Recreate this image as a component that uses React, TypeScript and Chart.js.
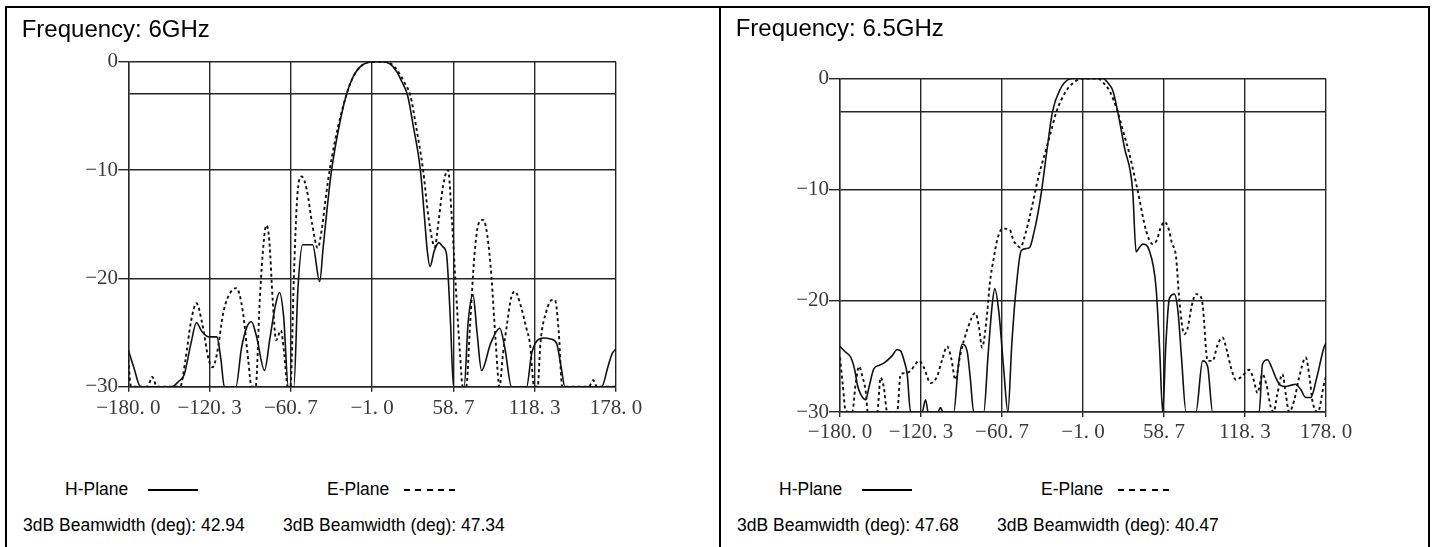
import React, { useEffect, useRef } from 'react';
import { Chart, registerables } from 'chart.js';

Chart.register(...registerables);

// ---------- axis ticks ----------
const X_TICKS = [-180, -120.3, -60.7, -1.0, 58.7, 118.3, 178.0];
const X_TICK_LABELS = ['−180. 0', '−120. 3', '−60. 7', '−1. 0', '58. 7', '118. 3', '178. 0'];
const Y_TICKS = [-30, -20, -10, -3, 0];
const Y_TICK_LABELS = ['−30', '−20', '−10', '', '0'];

// ---------- text ----------
const FREQUENCIES = ['Frequency: 6GHz', 'Frequency: 6.5GHz'];
const SERIES_NAMES = ['H-Plane', 'E-Plane'];
const BEAMWIDTH_6GHZ = ['42.94', '47.34'];
const BEAMWIDTH_6_5GHZ = ['47.68', '40.47'];

// ---------- 6 GHz, H-plane (solid) ----------
const H6_DEG = [-180, -176, -171, -148, -143, -139, -134, -130, -126, -121, -115, -112, -109.5, -101, -97, -93, -89.6, -86, -80, -76, -72, -69, -66, -62.5, -58.5, -55.5, -52, -44.7, -39.5, -37, -34, -31, -25, -20, -15, -10, -5, 0, 6, 12, 17, 21, 25, 29, 34.5, 37.5, 39.5, 41.5, 44.5, 48, 51, 53.5, 56.5, 58.7, 66.5, 69.5, 73, 76, 79.3, 86, 92.7, 96.5, 101.3, 112.4, 116, 119.7, 124.6, 130, 134.4, 137.5, 140.5, 167.5, 172, 175, 178];
const H6_DB = [-26.6, -28.2, -30, -30, -29.5, -28.9, -26, -24.1, -24.9, -25.4, -25.4, -27.5, -30, -30, -26.5, -24.5, -24, -25.3, -28.5, -25.5, -22.5, -21.3, -23.5, -30, -30, -21, -16.9, -16.9, -20.3, -17.2, -13.5, -10.2, -5.8, -3.1, -1.4, -0.5, -0.1, 0, 0, -0.2, -0.9, -1.9, -3.1, -5.8, -10.1, -14.5, -17.5, -18.9, -17.5, -16.7, -17.1, -17.7, -24, -30, -30, -24, -21.5, -25, -28.5, -26, -24.6, -26.5, -30, -30, -27, -25.8, -25.5, -25.6, -26, -28, -30, -30, -28.2, -27, -26.5];

// ---------- 6 GHz, E-plane (dashed) ----------
const E6_DEG = [-180, -178, -166, -162.4, -159, -142, -138, -134, -130, -126, -121, -118, -115, -110, -105, -100.6, -96, -92, -89.5, -86.5, -83.5, -80.5, -78.6, -76.5, -74, -71.5, -68, -65.5, -63, -61, -58.5, -56, -52.8, -49, -45, -41, -38, -35, -32.2, -26, -20, -15, -10, -5, 0, 8, 13, 18, 23, 27, 31, 36.4, 40, 43, 45, 47.5, 51, 54.7, 57.5, 60.5, 63.5, 65.5, 68, 71, 74, 77, 80.5, 83.5, 86.6, 89.5, 92.5, 95, 97.7, 101, 103.8, 108, 112, 114.8, 118, 120.5, 122.5, 127, 131, 133.2, 136, 138.5, 158, 161.3, 164, 178];
const E6_DB = [-27.5, -30, -30, -29.1, -30, -30, -27.5, -24, -22.3, -24, -27.5, -28.2, -27, -23, -21.3, -20.9, -23, -27.5, -30, -30, -22, -16.5, -15.1, -16.5, -22, -25.7, -24.8, -27, -30, -30, -20, -12.5, -10.6, -11.8, -15, -17.2, -15.5, -12.5, -10, -6, -3.1, -1.4, -0.5, -0.1, 0, 0, -0.2, -0.9, -2, -3.1, -5.8, -10, -14, -16.4, -17.1, -15, -11.5, -10, -14.5, -21, -27, -30, -30, -24, -18, -15, -14.6, -16, -19.9, -25.5, -30, -27, -24.5, -21.8, -21.2, -22.5, -24.5, -26, -30, -30, -26, -23, -22, -22, -25, -30, -30, -29.4, -30, -30];

// ---------- 6.5 GHz, H-plane (solid) ----------
const H65_DEG = [-180, -176, -172, -169, -167.3, -164.8, -161.1, -158.7, -155, -151, -147.7, -142, -137.9, -135.4, -132.5, -130.5, -128, -119.5, -117, -115, -108, -106, -104, -96.2, -93, -90.1, -86.4, -84, -81.5, -74.1, -71, -68, -66, -63, -59.5, -56.3, -53.5, -50.5, -46.5, -43, -40.3, -37.4, -34, -31.5, -27.6, -23.5, -17.5, -12, -8, 13.6, 18, 21, 24.6, 29.5, 35.6, 38.1, 40.5, 43, 47.9, 52.8, 55.5, 57.7, 60, 62.6, 66.3, 69, 71.5, 74.9, 82.2, 87.1, 90.8, 94.5, 128.8, 131.2, 134.9, 138, 141, 144.5, 148.4, 152, 155.7, 159.5, 163.1, 166.8, 171, 176.5, 178];
const H65_DB = [-24.1, -24.6, -25.1, -26.3, -27.5, -28.4, -28.9, -27.8, -26.1, -25.8, -25.6, -25, -24.4, -24.5, -25.5, -26.6, -30, -30, -28.9, -30, -30, -29.6, -30, -30, -26, -23.9, -24.5, -27, -30, -30, -25, -20.5, -18.9, -21, -26, -30, -24, -19.2, -15.5, -15.3, -15.2, -14, -12, -10.1, -6.5, -3, -0.9, -0.1, 0, 0, -0.5, -1.1, -3, -6.2, -10.1, -15.6, -15.2, -14.9, -15.5, -18.8, -24.5, -30, -24, -19.8, -19.4, -21, -25, -30, -30, -25.4, -25.9, -30, -30, -25.7, -25.3, -26, -26.9, -27.6, -27.7, -27.6, -27.5, -28, -28.7, -28.7, -27, -24.2, -23.8];

// ---------- 6.5 GHz, E-plane (dashed) ----------
const E65_DEG = [-180, -178, -175.8, -171, -168.5, -166, -163.5, -161.1, -159.5, -152.6, -150.1, -147.7, -145.2, -137.9, -135.4, -132, -128, -125, -121.9, -118.2, -113.3, -108.5, -104.5, -101.1, -98, -95, -91.3, -86, -80.3, -77.5, -75.4, -71.5, -69.7, -66.8, -63.5, -60, -55, -52.1, -50.1, -47.2, -43.5, -39.8, -33.7, -28, -24, -20.6, -13.3, -6, -2, 9.9, 14, 18.5, 24.6, 28, 33.2, 39.3, 45.5, 50.3, 53.5, 56, 58.9, 62, 64.5, 67.5, 70, 73.6, 76, 79, 82.2, 85, 87.1, 90.8, 94.5, 98, 101.8, 105, 108, 111.6, 116, 121.4, 124.5, 127.5, 131.2, 134, 137.4, 139.5, 142, 145.9, 148.5, 150.8, 154.5, 158, 163.1, 166, 168, 172, 176.5, 178];
const E65_DB = [-25.1, -27.5, -29.9, -30, -27.5, -25.9, -26.8, -28.1, -30, -30, -26.9, -27.8, -30, -30, -26.6, -26.5, -26.3, -25.8, -25.4, -26, -27.4, -26.8, -25.2, -24.1, -25.2, -27.1, -24.8, -22.5, -21.1, -22.5, -24.2, -21, -18.5, -16.2, -14.2, -13.5, -13.6, -14.6, -14.9, -15.2, -14, -12.2, -8.8, -6.3, -4.5, -3, -1.1, -0.2, 0, 0, -0.4, -1.1, -3, -4.5, -6.8, -10.1, -13.7, -14.9, -14.5, -13.5, -12.9, -13.5, -14.8, -16, -20, -23, -22.5, -20.5, -19.4, -19.5, -20.3, -25.4, -25.4, -24, -23.3, -24.5, -26, -27.1, -26.8, -26.2, -27, -28.3, -26.6, -27.5, -29.6, -30, -28.5, -26.6, -28.5, -30, -29, -27, -25.1, -27, -29, -30, -27.5, -26.8];

type Layout = {
  left: number; top: number; width: number; height: number;
  yAxisWidth: number; xAxisHeight: number; padTop: number; padRight: number;
  xTickLen: number; xTickPad: number; yTickLen: number; yTickPad: number;
};

const LINE_COLOR = '#111';
const GRID_COLOR = '#262626';
const TICK_TEXT = '#3a3a3a';

function pts(xs: number[], ys: number[]) {
  return xs.map((x, i) => ({ x, y: ys[i] }));
}

function PatternChart({ hDeg, hDb, eDeg, eDb, layout }: { hDeg: number[]; hDb: number[]; eDeg: number[]; eDb: number[]; layout: Layout }) {
  const ref = useRef<HTMLCanvasElement | null>(null);
  useEffect(() => {
    if (!ref.current) return;
    const chart = new Chart(ref.current, {
      type: 'line',
      data: {
        datasets: [
          {
            label: SERIES_NAMES[0],
            data: pts(hDeg, hDb),
            borderColor: LINE_COLOR,
            borderWidth: 1.6,
            pointRadius: 0,
            fill: false,
            cubicInterpolationMode: 'monotone',
          },
          {
            label: SERIES_NAMES[1],
            data: pts(eDeg, eDb),
            borderColor: LINE_COLOR,
            borderWidth: 1.9,
            borderDash: [3, 3],
            pointRadius: 0,
            fill: false,
            cubicInterpolationMode: 'monotone',
          },
        ],
      },
      options: {
        animation: false,
        responsive: false,
        maintainAspectRatio: false,
        parsing: false,
        layout: { padding: { top: layout.padTop, right: layout.padRight, left: 0, bottom: 0 } },
        plugins: { legend: { display: false }, tooltip: { enabled: false }, title: { display: false } },
        scales: {
          x: {
            type: 'linear',
            min: -180,
            max: 178,
            afterBuildTicks: (s: any) => { s.ticks = X_TICKS.map((v) => ({ value: v })); },
            afterFit: (s: any) => { s.height = layout.xAxisHeight; },
            ticks: {
              autoSkip: false,
              maxRotation: 0,
              minRotation: 0,
              padding: layout.xTickPad,
              color: TICK_TEXT,
              font: { family: "'Liberation Serif', 'DejaVu Serif', serif", size: 21 },
              callback: (v: any) => {
                const i = X_TICKS.findIndex((t) => Math.abs(t - Number(v)) < 0.01);
                return i >= 0 ? X_TICK_LABELS[i] : '';
              },
            },
            grid: { color: GRID_COLOR, lineWidth: 1.4, tickLength: layout.xTickLen, tickColor: GRID_COLOR, tickWidth: 1.4 },
            border: { color: GRID_COLOR, width: 1.4 },
          },
          y: {
            type: 'linear',
            min: -30,
            max: 0,
            afterBuildTicks: (s: any) => { s.ticks = Y_TICKS.map((v) => ({ value: v })); },
            afterFit: (s: any) => { s.width = layout.yAxisWidth; },
            ticks: {
              autoSkip: false,
              padding: layout.yTickPad,
              color: TICK_TEXT,
              font: { family: "'Liberation Serif', 'DejaVu Serif', serif", size: 21 },
              callback: (v: any) => {
                const i = Y_TICKS.indexOf(Number(v));
                return i >= 0 ? Y_TICK_LABELS[i] : '';
              },
            },
            grid: {
              color: GRID_COLOR,
              lineWidth: 1.4,
              tickLength: layout.yTickLen,
              tickWidth: 1.4,
              tickColor: (ctx: any) => (ctx.tick && ctx.tick.value === -3 ? 'rgba(0,0,0,0)' : GRID_COLOR),
            },
            border: { color: GRID_COLOR, width: 1.4 },
          },
        },
      },
    } as any);
    return () => chart.destroy();
  }, []);
  return (
    <canvas
      ref={ref}
      width={layout.width}
      height={layout.height}
      style={{ position: 'absolute', left: layout.left, top: layout.top, width: layout.width, height: layout.height }}
    />
  );
}

const TEXT_FONT = "'Liberation Sans', Arial, sans-serif";

function Txt({ x, baseline, size, children }: { x: number; baseline: number; size: number; children: React.ReactNode }) {
  // line box equal to font size: baseline sits ~0.846em below the box top
  return (
    <div style={{ position: 'absolute', left: x, top: baseline - size * 0.846, fontFamily: TEXT_FONT, fontSize: size, lineHeight: `${size}px`, color: '#000', whiteSpace: 'nowrap' }}>
      {children}
    </div>
  );
}

const TITLE_SIZE = 24;
const BODY_SIZE = 17.5;

function Panel({ offset, title, titleBaseline, bw }: { offset: number; title: string; titleBaseline: number; bw: string[] }) {
  return (
    <>
      <Txt x={offset + 21.7} baseline={titleBaseline} size={TITLE_SIZE}>{title}</Txt>
      <Txt x={offset + 65} baseline={496} size={BODY_SIZE}>{SERIES_NAMES[0]}</Txt>
      <div style={{ position: 'absolute', left: offset + 148, top: 489, width: 50, height: 2, background: '#000' }} />
      <Txt x={offset + 327} baseline={496} size={BODY_SIZE}>{SERIES_NAMES[1]}</Txt>
      <div
        style={{
          position: 'absolute', left: offset + 404, top: 489, width: 51, height: 2,
          background: 'repeating-linear-gradient(to right, #000 0px, #000 6px, transparent 6px, transparent 11.25px)',
        }}
      />
      <Txt x={offset + 23} baseline={531.5} size={BODY_SIZE}>{`3dB Beamwidth (deg): ${bw[0]}`}</Txt>
      <Txt x={offset + 283} baseline={531.5} size={BODY_SIZE}>{`3dB Beamwidth (deg): ${bw[1]}`}</Txt>
    </>
  );
}

const LEFT_LAYOUT: Layout = {
  left: 10, top: 40, width: 680, height: 400,
  yAxisWidth: 118.3, xAxisHeight: 53.3, padTop: 21.7, padRight: 74,
  xTickLen: 5, xTickPad: 3.7, yTickLen: 10, yTickPad: 0.3,
};
const RIGHT_LAYOUT: Layout = {
  left: 724, top: 40, width: 680, height: 430,
  yAxisWidth: 116, xAxisHeight: 58, padTop: 38.5, padRight: 78,
  xTickLen: 5, xTickPad: 3, yTickLen: 11, yTickPad: 0,
};

export default function App() {
  const line = (s: React.CSSProperties) => <div style={{ position: 'absolute', background: '#000', ...s }} />;
  return (
    <div style={{ position: 'fixed', left: 0, top: 0, width: 1434, height: 547, background: '#fff', overflow: 'hidden' }}>
      {line({ left: 5, top: 6, width: 1425, height: 2 })}
      {line({ left: 5, top: 6, width: 2, height: 541 })}
      {line({ left: 719, top: 6, width: 2, height: 541 })}
      {line({ left: 1428, top: 6, width: 2, height: 541 })}
      <PatternChart hDeg={H6_DEG} hDb={H6_DB} eDeg={E6_DEG} eDb={E6_DB} layout={LEFT_LAYOUT} />
      <PatternChart hDeg={H65_DEG} hDb={H65_DB} eDeg={E65_DEG} eDb={E65_DB} layout={RIGHT_LAYOUT} />
      <Panel offset={0} title={FREQUENCIES[0]} titleBaseline={37} bw={BEAMWIDTH_6GHZ} />
      <Panel offset={714} title={FREQUENCIES[1]} titleBaseline={36.7} bw={BEAMWIDTH_6_5GHZ} />
    </div>
  );
}
